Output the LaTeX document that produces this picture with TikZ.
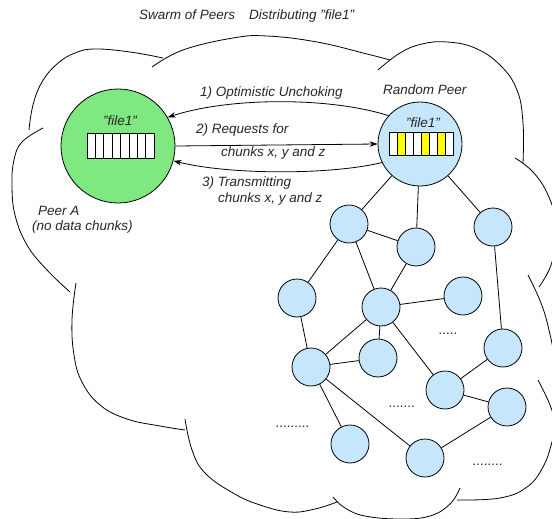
\documentclass[tikz,border=0pt]{standalone}
\usepackage{fontspec}
\setmainfont{Liberation Sans}
\usetikzlibrary{arrows.meta}
\definecolor{peergreen}{RGB}{128,232,128}
\definecolor{peerblue}{RGB}{198,230,252}
\definecolor{chunkyellow}{RGB}{255,255,0}
\begin{document}
\begin{tikzpicture}[x=1pt,y=-1pt,
  every node/.style={font=\fontsize{13.5}{16}\selectfont\itshape, text=black!85},
  lbl/.style={anchor=base west, inner sep=0pt},
  clbl/.style={anchor=base, inner sep=0pt},
  bigpeer/.style={circle, draw, line width=0.8pt, inner sep=0pt},
  peer/.style={circle, draw, line width=0.8pt, fill=peerblue, minimum size=38pt, inner sep=0pt},
  link/.style={line width=0.8pt},
  msg/.style={line width=0.8pt, -{Stealth[length=8pt,width=5.5pt]}},
  cloudline/.style={line width=0.8pt},
  cell/.style={draw, line width=0.8pt, fill=white},
]
\useasboundingbox (0,0) rectangle (552,519);
% cloud outline (lobes)
\begin{scope}
\clip (0,0) rectangle (552,519);
\draw[cloudline] plot[smooth,tension=0.7] coordinates {(29,130) (33,105) (42,82) (57,64) (75,53) (95,49) (130,52) (163,58)};
\draw[cloudline] plot[smooth,tension=0.7] coordinates {(152,67) (183,50) (233,38) (267,36) (317,42) (367,54) (390,60)};
\draw[cloudline] plot[smooth,tension=0.7] coordinates {(378,70) (400,53) (422,44) (447,42) (475,48) (500,65) (517,90) (523,123) (523,163)};
\draw[cloudline] plot[smooth,tension=0.7] coordinates {(515,158) (533,172) (548,195) (556,225) (552,262) (539,287)};
\draw[cloudline] plot[smooth,tension=0.7] coordinates {(528,275) (541,303) (549,330) (556,365) (560,390)};
\draw[cloudline] plot[smooth,tension=0.7] coordinates {(538,380) (550,405) (555,425) (552,442) (543,467) (527,487) (500,498) (457,500)};
\draw[cloudline] plot[smooth,tension=0.7] coordinates {(333,497) (345,508) (365,516) (400,519) (430,516) (450,504) (460,488)};
\draw[cloudline] plot[smooth,tension=0.7] coordinates {(185,419) (192,450) (205,473) (233,493) (260,505) (290,512) (315,509) (337,502)};
\draw[cloudline] plot[smooth,tension=0.7] coordinates {(76,283) (72,320) (74,355) (82,382) (100,405) (127,419) (160,426) (185,430)};
\draw[cloudline] plot[smooth,tension=0.7] coordinates {(43,128) (22,142) (14,160) (12,185) (15,215) (27,245) (47,270) (70,292)};
\end{scope}

% peers
\node[bigpeer, fill=peergreen, minimum size=114pt] (pa) at (118,146) {};
\node[bigpeer, fill=peerblue, minimum size=84pt] (rp) at (420,144) {};
\node[peer] (n1) at (349,224) {};
\node[peer] (n2) at (416,247) {};
\node[peer] (n3) at (493,227) {};
\node[peer] (n4) at (297,298) {};
\node[peer] (n5) at (381,307) {};
\node[peer] (n6) at (463,296) {};
\node[peer] (n7) at (311,367) {};
\node[peer] (n8) at (378,358) {};
\node[peer] (n9) at (503,348) {};
\node[peer] (n10) at (445,390) {};
\node[peer] (n11) at (507,407) {};
\node[peer] (n12) at (350,444) {};
\node[peer] (n13) at (425,458) {};

% network links
\foreach \a/\b in {rp/n1, rp/n2, rp/n3, n1/n2, n1/n4, n1/n5, n2/n5, n5/n6, n3/n9,
  n4/n7, n5/n7, n5/n8, n5/n10, n7/n8, n7/n12, n7/n13, n10/n9, n10/n11, n13/n11}
  \draw[link] (\a) -- (\b);

% file chunk bars
\begin{scope}[shift={(pa.center)}]
  \foreach \i in {0,...,7}
    \draw[cell] (-31+\i*8.4,-12.5) rectangle ++(8.4,25);
\end{scope}
\begin{scope}[shift={(rp.center)}]
  \foreach \i in {0,...,7}
    \draw[cell] (-31+\i*8,-11.5) rectangle ++(8,23);
  \foreach \i in {1,4,6}
    \draw[cell, fill=chunkyellow] (-31+\i*8,-11.5) rectangle ++(8,23);
\end{scope}

% messages
\draw[msg] (rp.138) .. controls (330,97) and (230,97) .. (pa.30);
\draw[msg] (pa.0) -- (rp.180);
\draw[msg] (rp.206) .. controls (330,175) and (230,175) .. (pa.-15);

% labels
\node[lbl] (t1) at (139,20) {Swarm of Peers};
\node[lbl] (t2) at (249,20) {Distributing "file1"};
\node[lbl] (m1) at (200,97) {1) Optimistic Unchoking};
\node[lbl] (rpl) at (383,95) {Random Peer};
\node[clbl] (f1) at (120,125) {"file1"};
\node[clbl] (f2) at (423,128) {"file1"};
\node[lbl] (m2a) at (196,133) {2) Requests for};
\node[lbl] (m2b) at (221,156) {chunks x, y and z};
\node[lbl] (m3a) at (202,186) {3) Transmitting};
\node[lbl] (m3b) at (218,202) {chunks x, y and z};
\node[lbl] (pal1) at (38,215) {Peer A};
\node[lbl] (pal2) at (32,230) {(no data chunks)};
\node[lbl] (d1) at (439,334) {.....};
\node[lbl] (d2) at (389,407) {.......};
\node[lbl] (d3) at (276,427) {.........};
\node[lbl] (d4) at (473,465) {........};
\end{tikzpicture}
\end{document}
